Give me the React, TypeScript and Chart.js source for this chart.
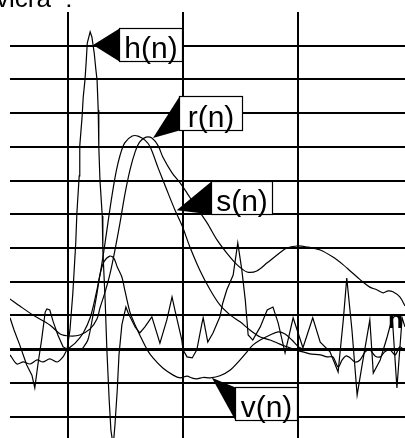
import React, { useEffect, useRef } from 'react';
import { Chart, registerables } from 'chart.js';

Chart.register(...registerables);

// axes ranges (sample index n, amplitude)
const X_MIN = 0;
const X_MAX = 68.5;
const Y_MIN = -2.635;
const Y_MAX = 10;
const X_GRID = [10, 30, 50];
const Y_GRID = [-2, -1, 0, 1, 2, 3, 4, 5, 6, 7, 8, 9];

// h(n): noisy impulse response
const H_N = [0, 0.7, 1.7, 2.9, 3.8, 4.3, 4.9, 5.5, 6.1, 6.4, 6.9, 7.5, 8.3, 9.2, 9.9, 10.4, 10.9, 11.1, 11.4, 11.6, 12.0, 12.1, 12.5, 12.7, 13.0, 13.2, 13.4, 13.9, 14.2, 14.6, 14.9, 15.1, 15.3, 15.4, 15.6, 16.0, 16.1, 16.5, 16.8, 17.2, 17.5, 17.9, 18.2, 18.6, 18.9, 19.4, 20.1, 20.5, 21.7, 22.5, 23.4, 24.6, 26.0, 27.2, 28.1, 28.6, 29.8, 30.0, 30.7, 31.6, 32.4, 33.3, 33.5, 34.3, 35.2, 36.4, 36.9, 37.6, 38.7, 39.5, 40.2, 40.8, 41.3, 42.1, 43.4, 44.6, 45.6, 46.5, 47.7, 49.1, 50.8, 52.5, 53.8, 55.5, 56.9, 57.8, 58.4, 59.3, 60.2, 61.0, 62.4, 63.0, 64.2, 65.4, 66.3, 67.1, 68.0, 68.5];
const H_V = [0.93, 0.57, 0.12, -0.47, -0.77, -1.15, -0.38, 0.30, 1.10, 1.19, 1.16, 0.81, 0.42, 0.07, 0, 0.57, 1.67, 2.26, 3.15, 4.04, 5.14, 6.03, 6.89, 7.48, 7.98, 8.49, 9.08, 9.41, 9.26, 8.79, 8.28, 7.98, 7.09, 6.00, 5.02, 3.95, 2.94, 1.46, -0.02, -1.51, -2.40, -2.87, -2.25, -1.21, -0.17, 0.72, 1.25, 1.07, 0.66, 0.48, 0.66, 0.96, 0.18, 0.87, 1.55, 1.16, 0.27, -0.02, -0.23, -0.26, -0.02, 0.78, 0.93, 0.21, 0.48, 0.96, 1.37, 1.76, 2.20, 3.15, 2.35, 1.46, 0.42, 0.27, 0.66, 1.16, 1.25, 0.78, -0.11, 0.93, 0.04, 0.93, 0.21, -0.08, -0.68, 0.87, 2.11, 0.57, -1.36, -0.53, 0.87, -0.71, -0.32, 0.36, 0.93, -1.15, 0.93, 0.66];

// s(n): fast-decaying pulse
const S_N = [0, 1.2, 2.3, 3.5, 4.7, 5.7, 6.9, 8.2, 9.2, 9.9, 11.3, 12.7, 13.9, 14.7, 15.6, 16.3, 17.0, 17.7, 18.4, 19.1, 19.9, 21.2, 22.2, 23.4, 24.3, 25.7, 27.2, 28.6, 29.8, 31.2, 32.9, 34.7, 36.4, 38.2, 39.9, 41.6, 43.4, 45.1, 46.8, 48.0, 49.4, 50.8, 52.0, 53.8, 55.0, 56.0, 56.9, 57.6, 58.3, 59.0, 59.8, 60.7, 61.6, 62.4, 63.3, 64.2, 65.0, 65.9, 66.8, 67.6, 68.5];
const S_V = [-0.17, -0.44, -0.38, -0.44, -0.32, -0.38, -0.29, -0.38, -0.23, -0.02, 0.18, 0.48, 0.93, 1.46, 2.20, 2.94, 3.77, 4.57, 5.26, 5.76, 6.12, 6.32, 6.32, 6.20, 6.00, 5.37, 4.72, 4.13, 3.68, 3.03, 2.35, 1.76, 1.31, 1.01, 0.81, 0.57, 0.36, 0.27, 0.15, 0.07, -0.02, -0.08, -0.14, -0.17, -0.23, -0.23, -0.53, -0.32, -0.20, -0.26, -0.38, -0.32, -0.08, -0.02, -0.20, -0.23, -0.08, -0.02, -0.17, 0.07, -0.05];

// r(n): pulse with long tail
const R_N = [0, 1.7, 4.0, 6.9, 8.7, 10.4, 12.1, 13.9, 15.1, 15.6, 16.5, 17.3, 18.2, 19.1, 19.9, 20.8, 21.7, 22.5, 23.6, 24.6, 25.7, 26.5, 28.1, 29.5, 30.7, 32.4, 34.2, 35.9, 37.6, 39.4, 41.1, 42.8, 44.6, 46.3, 48.0, 49.8, 51.5, 53.8, 56.0, 57.8, 59.0, 60.2, 61.2, 62.4, 63.6, 64.7, 65.6, 66.4, 67.6, 68.5];
const R_V = [1.49, 1.28, 1.01, 0.72, 0.45, 0.39, 0.42, 0.60, 0.90, 1.22, 1.70, 2.20, 2.94, 3.77, 4.57, 5.31, 5.85, 6.15, 6.29, 6.26, 6.03, 5.70, 5.23, 4.93, 4.63, 4.19, 3.74, 3.24, 2.85, 2.50, 2.29, 2.32, 2.56, 2.79, 3.00, 3.06, 3.03, 2.94, 2.73, 2.50, 2.32, 2.14, 1.99, 1.84, 1.76, 1.67, 1.73, 1.70, 1.55, 1.28];

// v(n)
const V_N = [12.5, 13.5, 14.4, 15.1, 15.6, 16.3, 17.3, 18.0, 18.6, 19.4, 19.9, 20.8, 21.7, 22.5, 23.8, 24.8, 26.5, 28.3, 29.5, 30.7, 31.6, 32.4, 33.5, 34.7, 36.4, 38.2, 39.9, 41.1, 42.1, 43.4, 45.1, 46.5, 47.7, 48.9, 49.9, 50.8];
const V_V = [0, 0.27, 1.01, 1.67, 2.20, 2.59, 2.76, 2.70, 2.44, 2.14, 1.76, 1.10, 0.72, 0.42, -0.02, -0.26, -0.56, -0.77, -0.85, -0.80, -0.86, -0.88, -0.84, -0.85, -0.79, -0.62, -0.32, -0.08, 0.12, 0.27, 0.42, 0.51, 0.45, 0.27, 0.09, 0];

// callout labels
const LABELS = ['h(n)', 'r(n)', 's(n)', 'v(n)'];
const LABEL_TIP_N = [14.4, 24.8, 28.9, 35.0];
const LABEL_TIP_V = [9.02, 6.26, 4.12, -0.85];
const LABEL_BOX_L = [18.9, 29.3, 34.9, 39.0];
const LABEL_BOX_R = [29.8, 40.2, 45.4, 49.8];
const LABEL_BOX_T = [9.53, 7.51, 4.99, -1.12];
const LABEL_BOX_B = [8.55, 6.50, 4.01, -2.10];

const CAPTION = 'vicra  :';
const AXIS_NAME = 'n';

const zip = (xs: number[], ys: number[]) => xs.map((x, i) => ({ x, y: ys[i] }));

const calloutPlugin = {
  id: 'callouts',
  afterDatasetsDraw(chart: any) {
    const { ctx, scales } = chart;
    const xs = scales.x;
    const ys = scales.y;
    ctx.save();
    LABELS.forEach((t, i) => {
      const tx = xs.getPixelForValue(LABEL_TIP_N[i]);
      const ty = ys.getPixelForValue(LABEL_TIP_V[i]);
      const l = Math.round(xs.getPixelForValue(LABEL_BOX_L[i])) + 0.5;
      const r = Math.round(xs.getPixelForValue(LABEL_BOX_R[i])) + 0.5;
      const tp = Math.round(ys.getPixelForValue(LABEL_BOX_T[i])) + 0.5;
      const b = Math.round(ys.getPixelForValue(LABEL_BOX_B[i])) + 0.5;
      ctx.beginPath();
      ctx.moveTo(tx, ty);
      ctx.lineTo(l, tp);
      ctx.lineTo(l, b);
      ctx.closePath();
      ctx.fillStyle = '#000';
      ctx.fill();
      ctx.fillStyle = '#fff';
      ctx.fillRect(l, tp, r - l, b - tp);
      ctx.strokeStyle = '#000';
      ctx.lineWidth = 1.2;
      ctx.strokeRect(l, tp, r - l, b - tp);
      ctx.fillStyle = '#000';
      ctx.font = '30px "Liberation Sans", Arial, sans-serif';
      ctx.textAlign = 'center';
      ctx.textBaseline = 'alphabetic';
      ctx.fillText(t, (l + r) / 2, b - 4);
    });
    // caption at the top (cut off by the frame)
    ctx.font = '26px "Liberation Sans", Arial, sans-serif';
    ctx.textAlign = 'left';
    ctx.fillStyle = '#000';
    ctx.fillText(CAPTION, -4, 7);
    // axis name
    ctx.font = 'bold 25px "Liberation Sans", Arial, sans-serif';
    ctx.fillText(AXIS_NAME, 388, ys.getPixelForValue(0) - 21);
    ctx.restore();
  },
};

export default function App() {
  const ref = useRef<HTMLCanvasElement | null>(null);
  useEffect(() => {
    if (!ref.current) return;
    const line = (data: any[], tension: number, width = 1.2) => ({
      data,
      showLine: true,
      borderColor: '#000',
      borderWidth: width,
      pointRadius: 0,
      tension,
      fill: false,
    });
    const chart = new Chart(ref.current, {
      type: 'scatter',
      data: {
        datasets: [
          line(zip(H_N, H_V), 0),
          line(zip(S_N, S_V), 0.3),
          line(zip(R_N, R_V), 0.3),
          line(zip(V_N, V_V), 0.3),
        ],
      },
      options: {
        responsive: false,
        animation: false,
        events: [],
        layout: { padding: { left: 10, top: 12, right: 0, bottom: 0 } },
        plugins: { legend: { display: false }, tooltip: { enabled: false } },
        scales: {
          x: {
            type: 'linear',
            min: X_MIN,
            max: X_MAX,
            afterBuildTicks: (s: any) => {
              s.ticks = X_GRID.map((v) => ({ value: v }));
            },
            ticks: { display: false },
            grid: { color: '#000', lineWidth: 2, drawTicks: false },
            border: { display: false },
          },
          y: {
            type: 'linear',
            min: Y_MIN,
            max: Y_MAX,
            afterBuildTicks: (s: any) => {
              s.ticks = Y_GRID.map((v) => ({ value: v }));
            },
            ticks: { display: false },
            grid: {
              color: '#000',
              lineWidth: (c: any) => (c.tick && c.tick.value === 0 ? 3 : 2),
              drawTicks: false,
            },
            border: { display: false },
          },
        },
      },
      plugins: [calloutPlugin],
    });
    return () => chart.destroy();
  }, []);
  return (
    <div style={{ position: 'fixed', left: 0, top: 0, width: 405, height: 438, background: '#fff' }}>
      <canvas ref={ref} width={405} height={438} style={{ display: 'block' }} />
    </div>
  );
}
